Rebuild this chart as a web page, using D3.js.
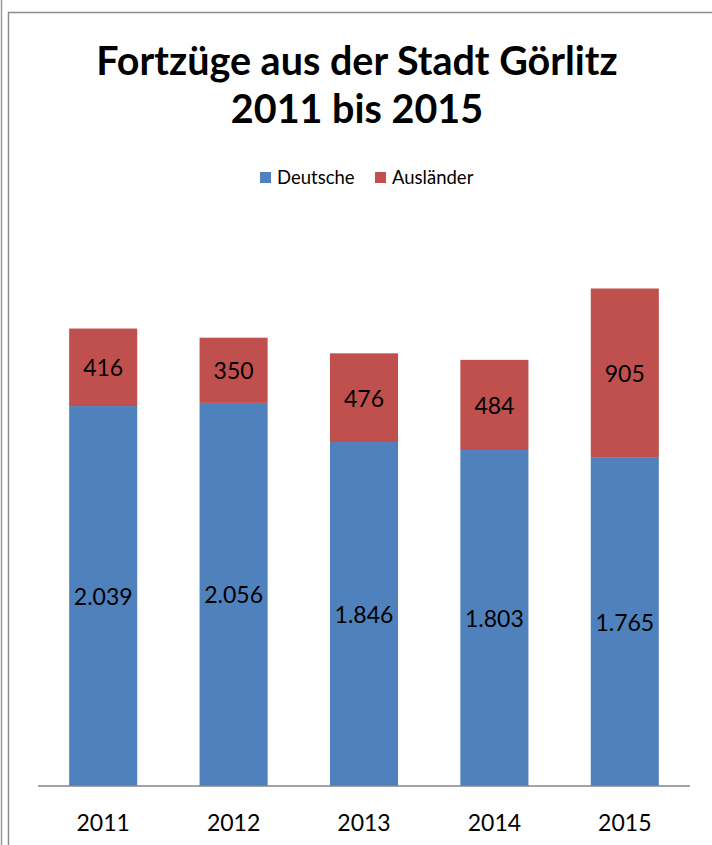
<!DOCTYPE html>
<html><head><meta charset="utf-8">
<script src="https://cdn.jsdelivr.net/npm/d3@7"></script>
<style>body{margin:0;background:#fff}svg{display:block}</style>
</head><body>
<script>
const years = ["2011","2012","2013","2014","2015"];
const deutsche = [2039, 2056, 1846, 1803, 1765];
const auslaender = [416, 350, 476, 484, 905];
const deutscheLabels = ["2.039","2.056","1.846","1.803","1.765"];
const auslaenderLabels = ["416","350","476","484","905"];
const seriesNames = ["Deutsche","Ausländer"];
const colors = ["#4F81BD","#C0504D"];

const W = 712, H = 845;
const svg = d3.select("body").append("svg").attr("width", W).attr("height", H);
const font = "Lato, 'Open Sans', sans-serif";

// outer frame lines
svg.append("line").attr("x1",1.5).attr("x2",1.5).attr("y1",0).attr("y2",H).attr("stroke","#9a9a9a").attr("stroke-width",1.5);
svg.append("path").attr("d",`M8.5,${H} V12.5 H${W}`).attr("fill","none").attr("stroke","#8c8c8c").attr("stroke-width",1.5);

// title
const title = svg.append("text").attr("text-anchor","middle").attr("font-family",font).attr("font-weight","bold").attr("font-size",39.5).attr("fill","#000");
title.append("tspan").attr("x",357).attr("y",75).text("Fortzüge aus der Stadt Görlitz");
title.append("tspan").attr("x",357).attr("y",123).text("2011 bis 2015");

// scales
const x = d3.scaleBand().domain(years).range([38, 690]).paddingInner(0.478).paddingOuter(0.239);
const y = d3.scaleLinear().domain([0, 3000]).range([786, 227]);

const data = years.map((yr,i)=>({year:yr, d:deutsche[i], a:auslaender[i], dl:deutscheLabels[i], al:auslaenderLabels[i]}));
const stack = d3.stack().keys(["d","a"])(data);

const g = svg.append("g");
stack.forEach((layer, li) => {
  g.selectAll(null).data(layer).enter().append("rect")
    .attr("x", d => x(d.data.year))
    .attr("width", x.bandwidth())
    .attr("y", d => y(d[1]))
    .attr("height", d => y(d[0]) - y(d[1]))
    .attr("fill", colors[li]);
  g.selectAll(null).data(layer).enter().append("text")
    .attr("x", d => x(d.data.year) + x.bandwidth()/2)
    .attr("y", d => (y(d[0]) + y(d[1]))/2 + 1)
    .attr("dy","0.35em")
    .attr("text-anchor","middle")
    .attr("font-family",font).attr("font-size",23).attr("fill","#000")
    .text(d => li===0 ? d.data.dl : d.data.al);
});

// x axis
const xAxis = svg.append("g").attr("transform","translate(0,786)").call(d3.axisBottom(x).tickSize(0).tickPadding(29));
xAxis.select(".domain").attr("stroke","#868686").attr("stroke-width",1.5).attr("d","M38,0H690");
xAxis.selectAll("text").attr("font-family",font).attr("font-size",23).attr("fill","#000");

// legend
const legend = svg.append("g");
const legendItems = [{x:260, tx:277},{x:375, tx:392}];
seriesNames.forEach((n,i)=>{
  legend.append("rect").attr("x",legendItems[i].x).attr("y",172).attr("width",11).attr("height",11).attr("fill",colors[i]);
  legend.append("text").attr("x",legendItems[i].tx).attr("y",184).attr("font-family",font).attr("font-size",18.5).attr("fill","#000").text(n);
});
</script>
</body></html>
